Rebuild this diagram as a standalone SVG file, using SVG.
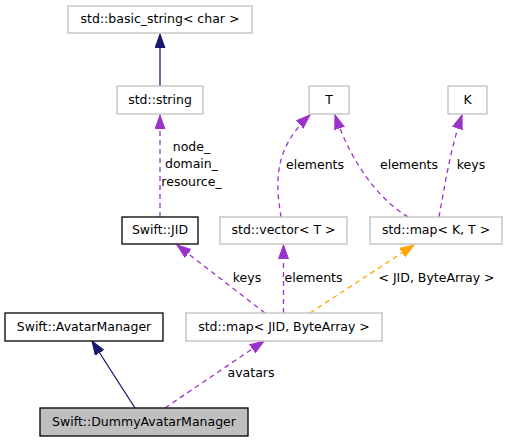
<svg xmlns="http://www.w3.org/2000/svg" width="507" height="443" viewBox="0 0 507 443">
<style>
text{font-family:"DejaVu Sans","Liberation Sans",sans-serif;font-size:12.5px;fill:#000}
.n rect{fill:#fff;stroke:#bfbfbf;stroke-width:1.3}
.n.b rect{stroke:#000}
.n.g rect{fill:#bfbfbf;stroke:#000}
.n text{text-anchor:middle}
.e path{fill:none;stroke-width:1.3}
.inh{stroke:#191970}
.use{stroke:#9a32cd;stroke-dasharray:5,4}
.tpl{stroke:#ffa500;stroke-dasharray:5,4}
.lbl{text-anchor:middle}
</style>
<defs>
<marker id="aN" markerUnits="userSpaceOnUse" markerWidth="15" markerHeight="12" refX="14" refY="5.5" orient="auto"><path d="M0,0.5 L14,5.5 L0,10.5 z" fill="#191970" stroke="#191970"/></marker>
<marker id="aP" markerUnits="userSpaceOnUse" markerWidth="15" markerHeight="12" refX="14" refY="5.5" orient="auto"><path d="M0,0.5 L14,5.5 L0,10.5 z" fill="#9a32cd" stroke="#9a32cd"/></marker>
<marker id="aO" markerUnits="userSpaceOnUse" markerWidth="15" markerHeight="12" refX="14" refY="5.5" orient="auto"><path d="M0,0.5 L14,5.5 L0,10.5 z" fill="#ffa500" stroke="#ffa500"/></marker>
</defs>
<g id="connectors" class="e">
<path class="inh" d="M160,86 L160,34" marker-end="url(#aN)"/>
<path class="use" d="M160,217 L160,115" marker-end="url(#aP)"/>
<path class="use" d="M281,217 C276,185 272,150 310,115" marker-end="url(#aP)"/>
<path class="use" d="M408,217 C380,200 352,165 335,115" marker-end="url(#aP)"/>
<path class="use" d="M439,217 C444,190 450,150 462,115" marker-end="url(#aP)"/>
<path class="use" d="M265,313 L177,245" marker-end="url(#aP)"/>
<path class="use" d="M283.5,313 L283.5,245" marker-end="url(#aP)"/>
<path class="tpl" d="M310,313 L414,245" marker-end="url(#aO)"/>
<path class="inh" d="M135,408 L92,341" marker-end="url(#aN)"/>
<path class="use" d="M165,408 L264,341" marker-end="url(#aP)"/>
<text class="lbl" x="191.5" y="151">node_</text>
<text class="lbl" x="191.5" y="168">domain_</text>
<text class="lbl" x="191.5" y="186">resource_</text>
<text class="lbl" x="315" y="169">elements</text>
<text class="lbl" x="409" y="169">elements</text>
<text class="lbl" x="471" y="169">keys</text>
<text class="lbl" x="247" y="282">keys</text>
<text class="lbl" x="313.5" y="282">elements</text>
<text class="lbl" x="436.5" y="282">&lt; JID, ByteArray &gt;</text>
<text class="lbl" x="251" y="377">avatars</text>
</g>
<g id="basic_string" class="n"><rect x="68" y="6" width="184" height="27"/><text x="160" y="23">std::basic_string&lt; char &gt;</text></g>
<g id="string" class="n"><rect x="117" y="86" width="86" height="28"/><text x="160" y="103.5">std::string</text></g>
<g id="T" class="n"><rect x="309" y="86" width="40" height="28"/><text x="329" y="103.5">T</text></g>
<g id="K" class="n"><rect x="448" y="86" width="39" height="28"/><text x="467.5" y="103.5">K</text></g>
<g id="JID" class="n b"><rect x="122" y="217" width="76" height="27"/><text x="160" y="234">Swift::JID</text></g>
<g id="vector" class="n"><rect x="220" y="217" width="127" height="27"/><text x="283.5" y="234">std::vector&lt; T &gt;</text></g>
<g id="mapKT" class="n"><rect x="370" y="217" width="132" height="27"/><text x="436" y="234">std::map&lt; K, T &gt;</text></g>
<g id="AvatarManager" class="n b"><rect x="5" y="313" width="158" height="28"/><text x="84" y="330.5">Swift::AvatarManager</text></g>
<g id="mapJID" class="n"><rect x="186" y="313" width="196" height="28"/><text x="284" y="330.5">std::map&lt; JID, ByteArray &gt;</text></g>
<g id="DummyAvatarManager" class="n g"><rect x="40" y="408" width="208" height="28"/><text x="144" y="425.5">Swift::DummyAvatarManager</text></g>
</svg>
